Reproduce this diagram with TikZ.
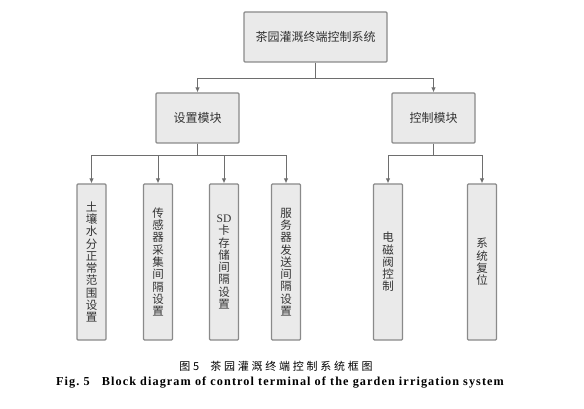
\documentclass[tikz,border=0pt]{standalone}
\usepackage{fontspec}
\setmainfont{Liberation Serif}
\newfontfamily\cjk{Noto Sans CJK SC}
\newfontfamily\capcjk[LetterSpace=25]{Noto Sans CJK SC}
\newfontfamily\capen[LetterSpace=9]{Liberation Serif}
\definecolor{boxfill}{HTML}{EAEAEA}
\definecolor{boxline}{HTML}{8A8A8A}
\definecolor{arrline}{HTML}{6E6E6E}
\definecolor{boxtext}{HTML}{333333}
\tikzstyle{block}=[draw=boxline,fill=boxfill,text=boxtext,line width=1.2pt,rounded corners=1pt,inner sep=0pt,font=\cjk\fontsize{12}{14}\selectfont]
\tikzstyle{module}=[block,minimum width=83pt,minimum height=50pt]
\tikzstyle{leaf}=[block,minimum width=29pt,minimum height=156pt,align=center,font=\cjk\fontsize{11.5}{12.3}\selectfont]
\tikzstyle{arr}=[draw=arrline,line width=1pt,-{Latex[length=5pt,width=4.5pt]}]
\usetikzlibrary{positioning,arrows.meta}

\begin{document}
\begin{tikzpicture}[x=1pt,y=-1pt]
\useasboundingbox (0,0) rectangle (584,409);

% levels
\node[block,minimum width=143pt,minimum height=50pt] (sys) at (315.5,37) {茶园灌溉终端控制系统};
\node[module] (set) at (197.5,118) {设置模块};
\node[module] (ctl) at (433.5,118) {控制模块};

\node[leaf] (soil) at (91.5,262) {土\\壤\\水\\分\\正\\常\\范\\围\\设\\置};
\node[leaf] (sens) at (158,262) {传\\感\\器\\采\\集\\间\\隔\\设\\置};
\node[leaf] (sd) at (224,262) {{\rmfamily SD}\\卡\\存\\储\\间\\隔\\设\\置};
\node[leaf] (srv) at (286,262) {服\\务\\器\\发\\送\\间\\隔\\设\\置};
\node[leaf] (valve) at (388,262) {电\\磁\\阀\\控\\制};
\node[leaf] (reset) at (482,262) {系\\统\\复\\位};

% junctions
\coordinate (j0) at (315.5,79);
\coordinate (j1) at (197.5,156);
\coordinate (j2) at (433.5,156);

\draw[arr] (sys.south) -- (j0) -| (set.north);
\draw[arr] (sys.south) -- (j0) -| (ctl.north);

\foreach \c in {soil,sens,sd,srv}
  \draw[arr] (set.south) -- (j1) -| (\c.north);
\foreach \c in {valve,reset}
  \draw[arr] (ctl.south) -- (j2) -| (\c.north);

% caption
\node (capzh) at (276,366) {\capcjk\fontsize{11}{13}\selectfont 图5\quad 茶园灌溉终端控制系统框图};
\node (capen) at (280,383) {\capen\bfseries\fontsize{12.2}{14}\selectfont Fig.~5\quad Block diagram of control terminal of the garden irrigation system};
\end{tikzpicture}
\end{document}
